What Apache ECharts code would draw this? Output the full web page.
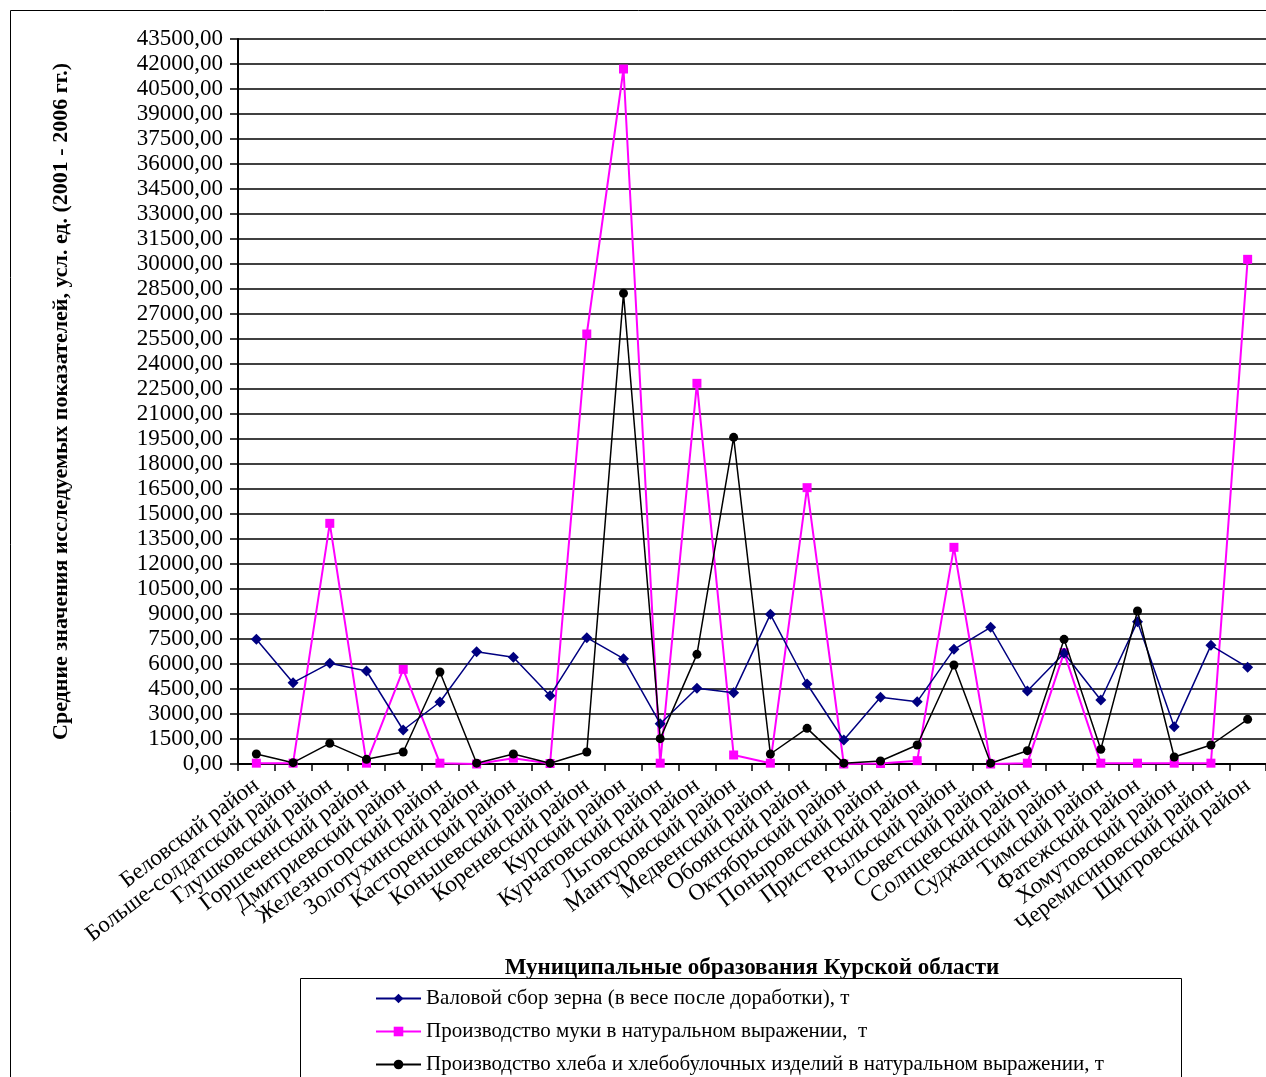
<!DOCTYPE html>
<html>
<head>
<meta charset="utf-8">
<script src="https://cdn.jsdelivr.net/npm/echarts@6/dist/echarts.min.js"></script>
<style>
  html, body { margin: 0; padding: 0; background: #fff; }
  #chart { width: 1266px; height: 1077px; }
</style>
</head>
<body>
<div id="chart"></div>
<script>
// районы Курской области
var districts = [
  'Беловский район', 'Больше-солдатский район', 'Глушковский район', 'Горшеченский район',
  'Дмитриевский район', 'Железногорский район', 'Золотухинский район', 'Касторенский район',
  'Коньшевский район', 'Кореневский район', 'Курский район', 'Курчатовский район',
  'Льговский район', 'Мантуровский район', 'Медвенский район', 'Обоянский район',
  'Октябрьский район', 'Поныровский район', 'Пристенский район', 'Рыльский район',
  'Советский район', 'Солнцевский район', 'Суджанский район', 'Тимский район',
  'Фатежский район', 'Хомутовский район', 'Черемисиновский район', 'Щигровский район'
]

var seriesNames = [
  'Валовой сбор зерна (в весе после доработки), т',
  'Производство муки в натуральном выражении,  т',
  'Производство хлеба и хлебобулочных изделий в натуральном выражении, т'
]

var grain = [7480, 4880, 6050, 5580, 2040, 3720, 6740, 6400, 4100, 7580, 6320, 2420, 4540, 4280,
  8980, 4800, 1440, 4000, 3740, 6880, 8200, 4380, 6640, 3840, 8540, 2240, 7120, 5800]
var flour = [50, 50, 14440, 50, 5680, 50, 0, 350, 30, 25800, 41700, 50, 22840, 540,
  50, 16580, 0, 30, 200, 13000, 0, 50, 6680, 50, 50, 50, 50, 30280]
var bread = [600, 80, 1240, 280, 720, 5520, 50, 600, 50, 720, 28240, 1520, 6580, 19600,
  600, 2140, 50, 180, 1140, 5940, 50, 800, 7480, 880, 9180, 420, 1140, 2680]

var yMin = 0
var yMax = 43500
var yStep = 1500

var serif = '"Liberation Serif", "Times New Roman", serif'

var chart = echarts.init(document.getElementById('chart'))

var option = {
  animation: false,
  backgroundColor: '#fff',
  textStyle: { fontFamily: serif },
  graphic: [
    {
      type: 'rect',
      shape: { x: 10.5, y: 10.5, width: 1300, height: 1100 },
      style: { fill: 'none', stroke: '#000', lineWidth: 1 },
      silent: true
    },
    {
      type: 'rect',
      shape: { x: 300.5, y: 978.5, width: 881, height: 200 },
      style: { fill: 'none', stroke: '#000', lineWidth: 1 },
      silent: true
    }
  ],
  grid: { left: 238, right: -7, top: 39, bottom: 313 },
  legend: {
    orient: 'vertical',
    left: 375,
    top: 988,
    height: 150,
    padding: 0,
    itemGap: 12,
    itemWidth: 45,
    itemHeight: 12,
    textStyle: { fontFamily: serif, fontSize: 21, color: '#000' },
    data: seriesNames
  },
  xAxis: {
    type: 'category',
    data: districts,
    boundaryGap: true,
    name: 'Муниципальные образования Курской области',
    nameLocation: 'middle',
    nameGap: 193,
    nameTextStyle: { fontFamily: serif, fontSize: 23, fontWeight: 'bold', color: '#000' },
    axisLine: { lineStyle: { color: '#000', width: 2 } },
    axisTick: { show: true, length: 7, alignWithLabel: false, lineStyle: { color: '#000', width: 1.5 } },
    axisLabel: { rotate: 37, margin: 19, interval: 0, fontFamily: serif, fontSize: 23, color: '#000' },
    splitLine: { show: false }
  },
  yAxis: {
    type: 'value',
    min: yMin,
    max: yMax,
    interval: yStep,
    name: 'Средние значения исследуемых показателей, усл. ед. (2001 - 2006 гг.)',
    nameLocation: 'middle',
    nameGap: 166,
    nameTextStyle: { fontFamily: serif, fontSize: 22, fontWeight: 'bold', color: '#000' },
    axisLine: { show: true, lineStyle: { color: '#000', width: 2 } },
    axisTick: { show: true, length: 8, lineStyle: { color: '#000', width: 1.5 } },
    axisLabel: {
      margin: 15,
      fontFamily: serif,
      fontSize: 23,
      color: '#000',
      formatter: function (v) { return v.toFixed(2).replace('.', ',') }
    },
    splitLine: { show: true, lineStyle: { color: '#000', width: 1.5 } }
  },
  series: [
    {
      name: seriesNames[0],
      type: 'line',
      data: grain,
      symbol: 'diamond',
      symbolSize: 11,
      itemStyle: { color: '#000080' },
      lineStyle: { color: '#000080', width: 1.5 },
      z: 3
    },
    {
      name: seriesNames[1],
      type: 'line',
      data: flour,
      symbol: 'rect',
      symbolSize: 9,
      itemStyle: { color: '#ff00ff' },
      lineStyle: { color: '#ff00ff', width: 2 },
      z: 2
    },
    {
      name: seriesNames[2],
      type: 'line',
      data: bread,
      symbol: 'circle',
      symbolSize: 9,
      itemStyle: { color: '#000' },
      lineStyle: { color: '#000', width: 1.5 },
      z: 4
    }
  ]
}

chart.setOption(option)
</script>
</body>
</html>
